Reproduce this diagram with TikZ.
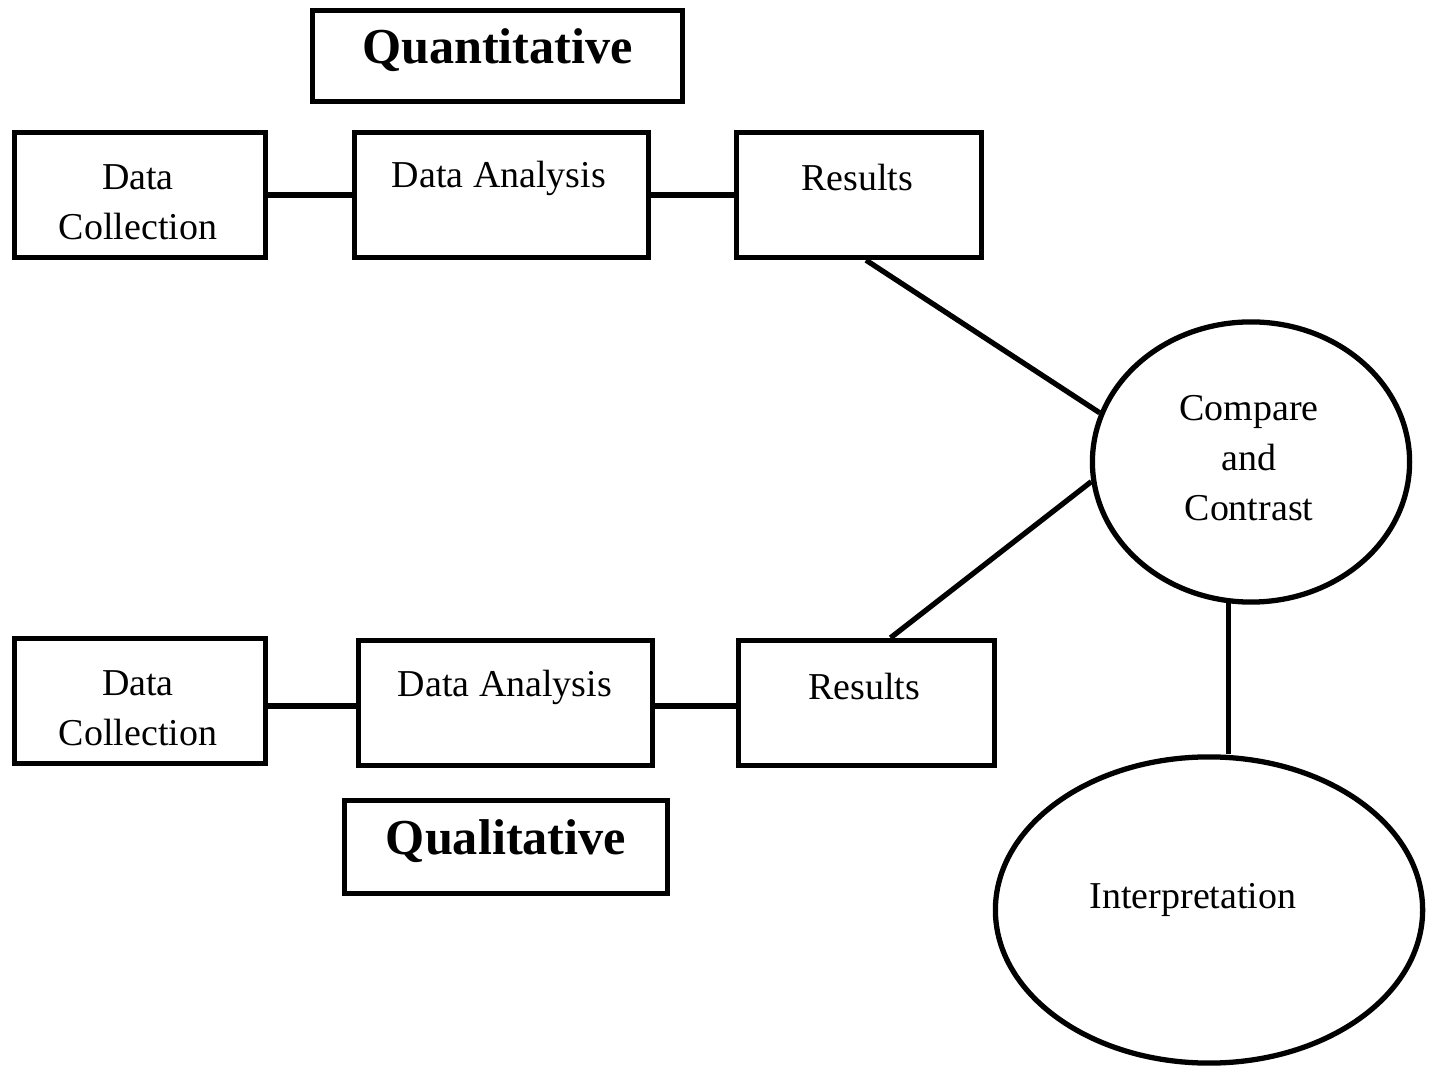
\documentclass[tikz,border=0pt]{standalone}
\usepackage{fontspec}
\setmainfont{Liberation Serif}
\usetikzlibrary{shapes.geometric,calc}
\begin{document}
\begin{tikzpicture}[x=0.01cm,y=-0.01cm,
  box/.style={draw,line width=1.5pt,rectangle,inner sep=0pt},
  oval/.style={draw,line width=1.5pt,ellipse,inner sep=0pt},
  txt/.style={font=\fontsize{10.8}{14.2}\selectfont,align=center,inner sep=0pt},
  btxt/.style={font=\fontsize{14.3}{17}\selectfont\bfseries,inner sep=0pt},
  conn/.style={line width=1.5pt}]
\useasboundingbox (0,0) rectangle (1440,1074);
% boxes
\node[box,minimum width=3.70cm,minimum height=0.91cm] (qbox) at (497.5,56) {};
\node[btxt] (qt) at (497.5,50) {Quantitative};
\node[box,minimum width=2.51cm,minimum height=1.25cm] (dc1) at (140,195) {};
\node[txt] (dc1t) at (138,202) {Data\\Collection};
\node[box,minimum width=2.94cm,minimum height=1.25cm] (da1) at (501.5,195) {};
\node[txt] (da1t) at (499,178) {Data Analysis};
\node[box,minimum width=2.45cm,minimum height=1.25cm] (res1) at (859,195) {};
\node[txt] (res1t) at (857,178) {Results};
\node[box,minimum width=2.51cm,minimum height=1.25cm] (dc2) at (140,701) {};
\node[txt] (dc2t) at (138,708) {Data\\Collection};
\node[box,minimum width=2.94cm,minimum height=1.25cm] (da2) at (505.5,703) {};
\node[txt] (da2t) at (505,687) {Data Analysis};
\node[box,minimum width=2.56cm,minimum height=1.25cm] (res2) at (866.5,703) {};
\node[txt] (res2t) at (864,687) {Results};
\node[box,minimum width=3.23cm,minimum height=0.93cm] (qlbox) at (506,847) {};
\node[btxt] (qlt) at (506,841) {Qualitative};
% ovals
\node[oval,minimum width=3.17cm,minimum height=2.80cm] (cmp) at (1251,462) {};
\node[txt] (cmpt) at (1249,458) {Compare\\and\\Contrast};
\node[oval,minimum width=4.27cm,minimum height=3.06cm] (interp) at (1209,910) {};
\node[txt] (interpt) at (1193,900) {Interpretation};
% connectors
\draw[conn] (dc1.east) -- (da1.west);
\draw[conn] (da1.east) -- (res1.west);
\draw[conn] ($(dc2.east)+(0,5)$) -- ($(da2.west)+(0,3)$);
\draw[conn] ($(da2.east)+(0,3)$) -- ($(res2.west)+(0,3)$);
\draw[conn] ($(res1.south)+(7,0)$) -- (cmp.162);
\draw[conn] ($(res2.north)+(24,0)$) -- (cmp.187);
\draw[conn] (cmp.261) -- (cmp.261 |- interp.north);
\end{tikzpicture}
\end{document}
